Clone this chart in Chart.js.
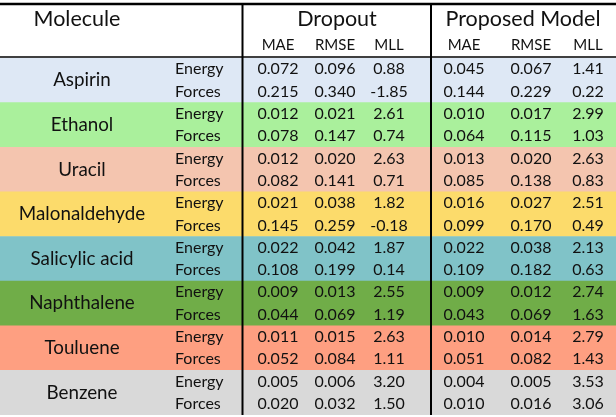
<!DOCTYPE html>
<html>
<head>
<meta charset="utf-8">
<script src="https://cdn.jsdelivr.net/npm/chart.js@4"></script>
<style>
  html, body { margin: 0; padding: 0; background: #fff; }
  #wrap { width: 616px; height: 417px; position: relative; }
</style>
</head>
<body>
<div id="wrap"><canvas id="tableChart"></canvas></div>
<script>
// Molecules and their band colours
const molecules = ['Aspirin', 'Ethanol', 'Uracil', 'Malonaldehyde', 'Salicylic acid', 'Naphthalene', 'Touluene', 'Benzene'];
const moleculeColors = ['#dee8f5', '#aaf09c', '#f4c5af', '#fcdb6b', '#80c3c8', '#70ad48', '#fe9f81', '#d9d9d9'];
const quantities = ['Energy', 'Forces'];
const metrics = ['MAE', 'RMSE', 'MLL'];
const models = ['Dropout', 'Proposed Model'];

// Rows go Energy, Forces for each molecule in order
const dropoutMAE  = [0.072, 0.215, 0.012, 0.078, 0.012, 0.082, 0.021, 0.145, 0.022, 0.108, 0.009, 0.044, 0.011, 0.052, 0.005, 0.020];
const dropoutRMSE = [0.096, 0.340, 0.021, 0.147, 0.020, 0.141, 0.038, 0.259, 0.042, 0.199, 0.013, 0.069, 0.015, 0.084, 0.006, 0.032];
const dropoutMLL  = [0.88, -1.85, 2.61, 0.74, 2.63, 0.71, 1.82, -0.18, 1.87, 0.14, 2.55, 1.19, 2.63, 1.11, 3.20, 1.50];
const proposedMAE  = [0.045, 0.144, 0.010, 0.064, 0.013, 0.085, 0.016, 0.099, 0.022, 0.109, 0.009, 0.043, 0.010, 0.051, 0.004, 0.010];
const proposedRMSE = [0.067, 0.229, 0.017, 0.115, 0.020, 0.138, 0.027, 0.170, 0.038, 0.182, 0.012, 0.069, 0.014, 0.082, 0.005, 0.016];
const proposedMLL  = [1.41, 0.22, 2.99, 1.03, 2.63, 0.83, 2.51, 0.49, 2.13, 0.63, 2.74, 1.63, 2.79, 1.43, 3.53, 3.06];

const rowLabels = [];
molecules.forEach(m => quantities.forEach(q => rowLabels.push(m + ' ' + q)));
const columns = [
    { values: dropoutMAE, digits: 3 },
    { values: dropoutRMSE, digits: 3 },
    { values: dropoutMLL, digits: 2 },
    { values: proposedMAE, digits: 3 },
    { values: proposedRMSE, digits: 3 },
    { values: proposedMLL, digits: 2 },
];

// layout (pixels on the x scale, which runs 0..616)
const colCenters = [278, 335, 389, 464, 531, 588];
const modelCenters = [337, 523];
const dividers = [242.5, 431];
const FONT = 'Lato, "Open Sans", sans-serif';
const INK = '#111';

const tablePlugin = {
    id: 'tableText',
    afterDatasetsDraw(chart) {
        const { ctx, scales: { x, y }, chartArea } = chart;
        ctx.save();
        ctx.fillStyle = INK;
        ctx.textBaseline = 'middle';

        // header
        ctx.font = '21.5px ' + FONT;
        ctx.textAlign = 'center';
        ctx.fillText('Molecule', x.getPixelForValue(77), 19);
        models.forEach((m, i) => ctx.fillText(m, x.getPixelForValue(modelCenters[i]), 19));
        ctx.font = '15px ' + FONT;
        colCenters.forEach((c, i) => ctx.fillText(metrics[i % 3], x.getPixelForValue(c), 45));

        // molecule names, centred on their two rows
        ctx.font = '18.8px ' + FONT;
        molecules.forEach((m, i) => {
            const yc = (y.getPixelForValue(i * 2) + y.getPixelForValue(i * 2 + 1)) / 2;
            ctx.fillText(m, x.getPixelForValue(82), yc);
        });

        // row type and numbers
        ctx.font = '16px ' + FONT;
        rowLabels.forEach((_, r) => {
            const yc = y.getPixelForValue(r);
            ctx.textAlign = 'left';
            ctx.fillText(quantities[r % 2], x.getPixelForValue(175), yc);
            ctx.textAlign = 'center';
            columns.forEach((col, c) => {
                ctx.fillText(col.values[r].toFixed(col.digits), x.getPixelForValue(colCenters[c]), yc);
            });
        });

        // rules
        ctx.strokeStyle = '#000';
        ctx.lineWidth = 2.5;
        ctx.beginPath();
        ctx.moveTo(0, 4); ctx.lineTo(616, 4);
        ctx.stroke();
        ctx.lineWidth = 1.5;
        ctx.beginPath();
        ctx.moveTo(0, chartArea.top - 1); ctx.lineTo(616, chartArea.top - 1);
        ctx.stroke();
        ctx.lineWidth = 2;
        dividers.forEach(d => {
            ctx.beginPath();
            ctx.moveTo(x.getPixelForValue(d), 4);
            ctx.lineTo(x.getPixelForValue(d), chartArea.bottom);
            ctx.stroke();
        });
        ctx.restore();
    }
};

const ctx = document.getElementById('tableChart').getContext('2d');
const tableChart = new Chart(ctx, {
    type: 'bar',
    data: {
        labels: rowLabels,
        datasets: [{
            data: rowLabels.map(() => [0, 616]),
            backgroundColor: rowLabels.map((_, r) => moleculeColors[Math.floor(r / 2)]),
            borderWidth: 0,
            barPercentage: 1,
            categoryPercentage: 1,
        }]
    },
    options: {
        indexAxis: 'y',
        responsive: true,
        maintainAspectRatio: false,
        animation: false,
        layout: { padding: { top: 58, bottom: 2, left: 0, right: 0 } },
        plugins: { legend: { display: false }, tooltip: { enabled: false } },
        scales: {
            x: { type: 'linear', min: 0, max: 616, display: false },
            y: { display: false }
        }
    },
    plugins: [tablePlugin]
});
</script>
</body>
</html>
